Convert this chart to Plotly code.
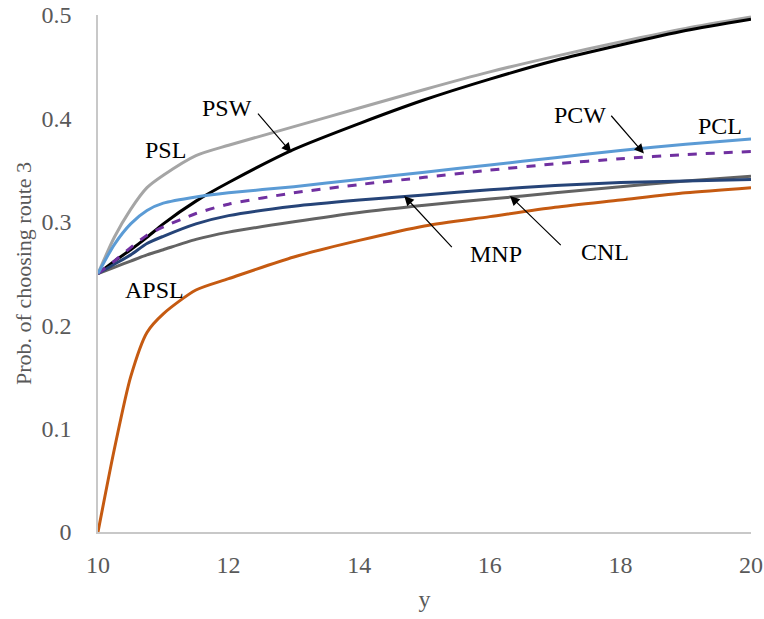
import plotly.graph_objects as go

x = [10, 10.25, 10.5, 10.75, 11, 11.5, 12, 13, 14, 15, 16, 17, 18, 19, 20]

psl = [0.25, 0.285, 0.312, 0.333, 0.345, 0.364, 0.374, 0.392, 0.410, 0.428, 0.445, 0.460, 0.474, 0.487, 0.498]
psw = [0.25, 0.262, 0.273, 0.285, 0.298, 0.320, 0.338, 0.370, 0.395, 0.418, 0.438, 0.456, 0.471, 0.485, 0.496]
pcl = [0.25, 0.278, 0.298, 0.311, 0.318, 0.324, 0.328, 0.334, 0.341, 0.348, 0.355, 0.362, 0.369, 0.375, 0.380]
pcw = [0.25, 0.262, 0.275, 0.287, 0.295, 0.308, 0.317, 0.328, 0.336, 0.343, 0.350, 0.356, 0.361, 0.365, 0.368]
mnp = [0.25, 0.259, 0.268, 0.279, 0.286, 0.298, 0.306, 0.315, 0.321, 0.326, 0.331, 0.335, 0.338, 0.3395, 0.341]
cnl = [0.25, 0.256, 0.262, 0.268, 0.273, 0.283, 0.290, 0.300, 0.309, 0.316, 0.322, 0.328, 0.334, 0.3395, 0.344]
apsl = [0.0, 0.080, 0.150, 0.193, 0.211, 0.234, 0.245, 0.266, 0.282, 0.296, 0.305, 0.314, 0.321, 0.328, 0.333]

x_ticks = [10, 12, 14, 16, 18, 20]
y_ticks = [0, 0.1, 0.2, 0.3, 0.4, 0.5]
y_tick_text = ["0", "0.1", "0.2", "0.3", "0.4", "0.5"]

series = [
    ("PSL", psl, "#A5A5A5", "solid"),
    ("PSW", psw, "#000000", "solid"),
    ("CNL", cnl, "#636363", "solid"),
    ("MNP", mnp, "#264478", "solid"),
    ("PCW", pcw, "#7030A0", "dash"),
    ("PCL", pcl, "#5B9BD5", "solid"),
    ("APSL", apsl, "#C55A11", "solid"),
]

FONT = "Liberation Serif"
fig = go.Figure()
for name, ys, col, dash in series:
    fig.add_trace(go.Scatter(x=x, y=ys, mode="lines", name=name,
                             line=dict(color=col, width=3, dash=dash, shape="spline", smoothing=0.7)))

labels = [
    ("PSW", 11.98, 0.410),
    ("PSL", 11.03, 0.369),
    ("APSL", 10.87, 0.234),
    ("PCW", 17.38, 0.403),
    ("PCL", 19.53, 0.393),
    ("MNP", 16.09, 0.269),
    ("CNL", 17.76, 0.271),
]
for t, lx, ly in labels:
    fig.add_annotation(x=lx, y=ly, text=t, showarrow=False,
                       font=dict(family=FONT, size=24, color="#000000"))

arrows = [
    (12.43, 0.406, 12.96, 0.367),
    (17.84, 0.404, 18.36, 0.366),
    (15.44, 0.274, 14.69, 0.325),
    (17.11, 0.276, 16.31, 0.325),
]
for tx, ty, hx, hy in arrows:
    fig.add_annotation(x=hx, y=hy, ax=tx, ay=ty, axref="x", ayref="y", xref="x", yref="y",
                       text="", showarrow=True, arrowhead=2, arrowsize=1.6, arrowwidth=1.2,
                       arrowcolor="#000000")

fig.update_layout(
    width=764, height=619,
    margin=dict(l=98, r=13, t=15, b=87),
    paper_bgcolor="white", plot_bgcolor="white",
    showlegend=False,
    font=dict(family=FONT, size=24, color="#595959"),
)
fig.update_xaxes(range=[10, 20], tickvals=x_ticks, showgrid=False, zeroline=False,
                 showline=True, linecolor="#C8C8C8", linewidth=1.5, ticks="",
                 automargin=False, ticklabelstandoff=10,
                 title=dict(text="y", font=dict(family=FONT, size=24, color="#595959"), standoff=14),
                 tickfont=dict(family=FONT, size=24, color="#595959"))
fig.update_yaxes(range=[0, 0.5], tickvals=y_ticks, ticktext=y_tick_text, showgrid=False, zeroline=False,
                 showline=True, linecolor="#C8C8C8", linewidth=1.5, ticks="",
                 automargin=False, ticklabelstandoff=20,
                 title=dict(text="Prob. of choosing route 3", font=dict(family=FONT, size=22, color="#595959"), standoff=4),
                 tickfont=dict(family=FONT, size=24, color="#595959"))

fig.write_html("out.html")
